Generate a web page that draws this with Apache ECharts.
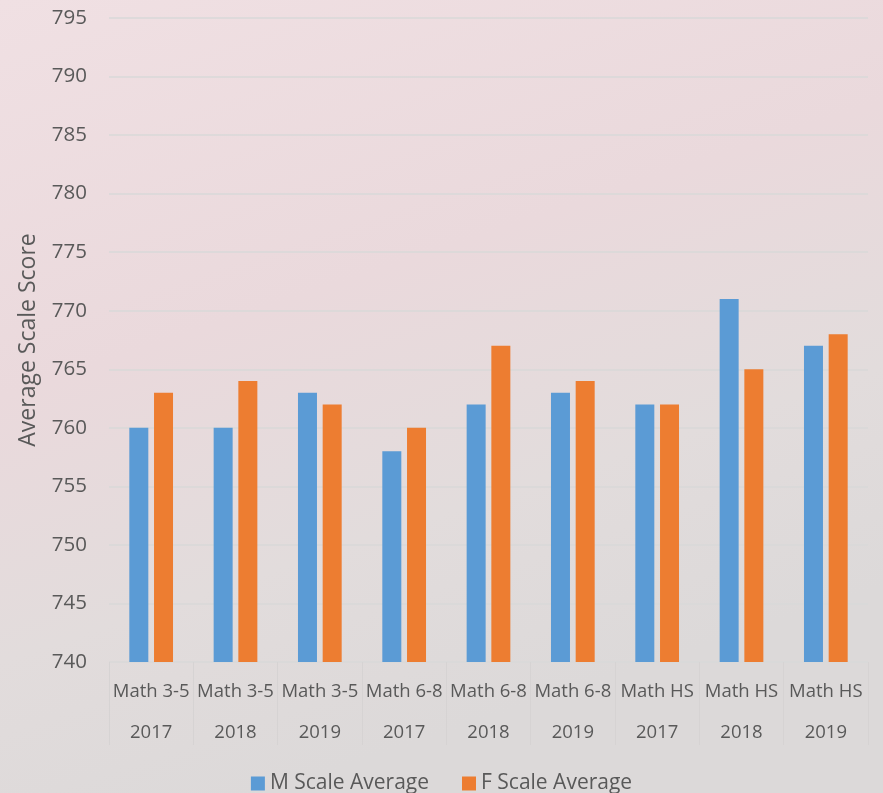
<!DOCTYPE html>
<html>
<head>
<meta charset="utf-8">
<script src="https://cdn.jsdelivr.net/npm/echarts@6/dist/echarts.min.js"></script>
<style>
html,body{margin:0;padding:0;}
#c{width:883px;height:793px;}
</style>
</head>
<body>
<div id="c"></div>
<script>
const subjects = ["Math 3-5","Math 3-5","Math 3-5","Math 6-8","Math 6-8","Math 6-8","Math HS","Math HS","Math HS"];
const years = ["2017","2018","2019","2017","2018","2019","2017","2018","2019"];
const mValues = [760, 760, 763, 758, 762, 763, 762, 771, 767];
const fValues = [763, 764, 762, 760, 767, 764, 762, 765, 768];
const yTicks = {min: 740, max: 795, interval: 5};

const font = "'Open Sans', sans-serif";
const chart = echarts.init(document.getElementById('c'));
chart.setOption({
  backgroundColor: {
    type: 'linear', x: 0, y: 0, x2: 0.3, y2: 1,
    colorStops: [
      {offset: 0, color: '#F0E0E3'},
      {offset: 0.45, color: '#EAD9DC'},
      {offset: 0.75, color: '#E2DCDC'},
      {offset: 1, color: '#DCD9D9'}
    ]
  },
  animation: false,
  textStyle: {fontFamily: font},
  grid: {left: 109, right: 15, top: 18, bottom: 131},
  legend: {
    top: 768, left: 'center',
    itemWidth: 14, itemHeight: 14, itemGap: 33,
    icon: 'rect',
    textStyle: {fontSize: 21, color: '#595959', fontFamily: font},
    data: ['M Scale Average', 'F Scale Average']
  },
  xAxis: [
    {
      type: 'category', data: subjects, position: 'bottom',
      axisLine: {show: false},
      axisTick: {show: true, length: 83, interval: 0, lineStyle: {color: '#D6D3D3', width: 1}},
      axisLabel: {interval: 0, margin: 20, fontSize: 18.5, color: '#595959', fontFamily: font}
    },
    {
      type: 'category', data: years, position: 'bottom',
      axisLine: {show: false},
      axisTick: {show: false},
      axisLabel: {interval: 0, margin: 61, fontSize: 18.5, color: '#595959', fontFamily: font}
    }
  ],
  yAxis: {
    type: 'value', min: yTicks.min, max: yTicks.max, interval: yTicks.interval,
    name: 'Average Scale Score', nameLocation: 'middle', nameGap: 69,
    nameTextStyle: {fontSize: 23, color: '#595959', fontFamily: font},
    axisLine: {show: false}, axisTick: {show: false},
    axisLabel: {fontSize: 20.5, color: '#595959', margin: 22, fontFamily: font},
    splitLine: {lineStyle: {color: '#D9D9D9', width: 1.5}}
  },
  series: [
    {name: 'M Scale Average', type: 'bar', data: mValues, xAxisIndex: 0,
     barWidth: 19, barGap: '30%', itemStyle: {color: '#5B9BD5'}},
    {name: 'F Scale Average', type: 'bar', data: fValues, xAxisIndex: 0,
     barWidth: 19, itemStyle: {color: '#ED7D31'}}
  ]
});
</script>
</body>
</html>
